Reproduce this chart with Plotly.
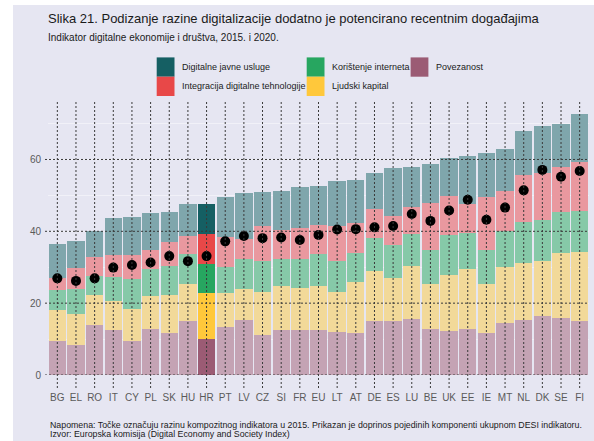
import plotly.graph_objects as go

categories = ["BG", "EL", "RO", "IT", "CY", "PL", "SK", "HU", "HR", "PT", "LV", "CZ", "SI", "FR",
              "EU", "LT", "AT", "DE", "ES", "LU", "BE", "UK", "EE", "IE", "MT", "NL", "DK", "SE", "FI"]

povezanost = [9.6, 8.4, 14.0, 12.5, 9.6, 12.9, 11.8, 15.1, 10.1, 13.4, 15.4, 11.2, 12.6, 12.4,
              12.4, 12.1, 11.7, 14.9, 15.1, 15.7, 12.9, 12.2, 12.9, 11.6, 14.6, 15.2, 16.3, 16.0, 14.9]
ljudski_kapital = [8.5, 8.7, 8.3, 8.0, 8.8, 9.2, 10.5, 10.3, 12.6, 9.5, 8.6, 12.0, 12.1, 11.9,
                   12.5, 11.1, 14.3, 14.1, 12.0, 14.7, 12.5, 15.7, 16.7, 13.8, 15.5, 16.0, 15.5, 18.0, 19.4]
koristenje_interneta = [5.6, 6.9, 5.4, 6.8, 8.3, 7.4, 8.1, 8.4, 8.3, 7.2, 8.3, 8.4, 7.6, 8.0,
                        8.7, 8.5, 8.0, 9.2, 9.1, 8.9, 9.5, 11.0, 9.9, 9.5, 9.9, 11.3, 11.3, 11.5, 11.4]
integracija = [3.4, 5.7, 5.1, 6.2, 6.8, 5.4, 6.5, 5.0, 8.3, 8.2, 5.6, 9.9, 8.2, 8.5,
               8.2, 9.9, 8.2, 8.0, 8.1, 7.5, 13.1, 10.9, 8.2, 14.7, 11.1, 13.1, 13.0, 12.3, 13.6]
javne_usluge = [9.4, 7.6, 7.4, 10.2, 10.5, 10.2, 8.4, 8.9, 8.4, 11.2, 12.7, 9.4, 10.7, 11.5,
                10.8, 12.4, 12.1, 10.0, 13.3, 11.1, 10.7, 10.7, 13.4, 12.2, 11.7, 12.3, 13.2, 12.0, 13.3]
desi_2015 = [26.9, 26.2, 26.9, 29.9, 30.6, 31.3, 33.1, 31.7, 33.1, 37.2, 38.7, 38.1, 38.3, 37.6,
             39.0, 40.5, 40.6, 41.1, 41.5, 44.8, 42.9, 45.8, 48.8, 43.2, 46.6, 51.4, 57.1, 55.2, 56.8]

highlight = "HR"

series = [
    ("Povezanost", povezanost, "#9B5B74", "#C4A3B4"),
    ("Ljudski kapital", ljudski_kapital, "#FFC83B", "#F2D999"),
    ("Korištenje interneta", koristenje_interneta, "#27A660", "#86C9A8"),
    ("Integracija digitalne tehnologije", integracija, "#E84848", "#E9989F"),
    ("Digitalne javne usluge", javne_usluge, "#155F63", "#7FA6AC"),
]

W, H = 594, 441
ML, MR, MT, MB = 48, 5, 102, 66
PW, PH = W - ML - MR, H - MT - MB
BG = "#E6E6F2"
FONT = "Liberation Sans, Arial, sans-serif"


def px(x):
    return (x - ML) / PW


def py(y):
    return (H - MB - y) / PH


fig = go.Figure()
for name, vals, full, faded in series:
    colors = [full if c == highlight else faded for c in categories]
    fig.add_trace(go.Bar(x=categories, y=vals, name=name, marker=dict(color=colors, line=dict(width=0)),
                         showlegend=False))

fig.add_trace(go.Scatter(x=categories, y=desi_2015, mode="markers", showlegend=False,
                         marker=dict(color="black", size=10)))

shapes = []
# background panel
shapes.append(dict(type="rect", xref="paper", yref="paper", x0=px(13), x1=px(W + 2), y0=py(5), y1=py(H + 2),
                   fillcolor=BG, line=dict(width=0), layer="below"))
# dotted vertical lines with ticks
for i, c in enumerate(categories):
    shapes.append(dict(type="line", xref="x", yref="paper", x0=i, x1=i, y0=py(388), y1=1,
                       line=dict(color="#3a3a3a", width=1, dash="2px,2px"), layer="above"))
# dotted horizontal lines
for v in [0, 20, 40, 60]:
    shapes.append(dict(type="line", xref="paper", yref="y", x0=px(45), x1=1, y0=v, y1=v,
                       line=dict(color="#3a3a3a", width=1, dash="2px,2px"), layer="above"))

annotations = []
annotations.append(dict(text="Slika 21. Podizanje razine digitalizacije dodatno je potencirano recentnim događajima",
                        xref="paper", yref="paper", x=px(45.5), y=py(18.7), xanchor="left", yanchor="middle",
                        showarrow=False, font=dict(size=13, color="#1a1a1a", family=FONT)))
annotations.append(dict(text="Indikator digitalne ekonomije i društva, 2015. i 2020.",
                        xref="paper", yref="paper", x=px(45.5), y=py(38), xanchor="left", yanchor="middle",
                        showarrow=False, font=dict(size=10, color="#1a1a1a", family=FONT)))

# custom legend (column-major, 2 rows)
legend_items = [
    ("Digitalne javne usluge", "#155F63", 156.7, 0),
    ("Integracija digitalne tehnologije", "#E84848", 156.7, 1),
    ("Korištenje interneta", "#27A660", 306.7, 0),
    ("Ljudski kapital", "#FFC83B", 306.7, 1),
    ("Povezanost", "#9B5B74", 410.6, 0),
]
for label, col, x0, row in legend_items:
    top = 57.4 + row * 19.3
    shapes.append(dict(type="rect", xref="paper", yref="paper", x0=px(x0), x1=px(x0 + 17.8),
                       y0=py(top + 19.3), y1=py(top), fillcolor=col, line=dict(width=0)))
    annotations.append(dict(text=label, xref="paper", yref="paper", x=px(x0 + 23.5), y=py(top + 9.5),
                            xanchor="left", yanchor="middle", showarrow=False,
                            font=dict(size=9, color="#1a1a1a", family=FONT)))

annotations.append(dict(text="Napomena: Točke označuju razinu kompozitnog indikatora u 2015. Prikazan je doprinos pojedinih komponenti ukupnom DESI indikatoru.",
                        xref="paper", yref="paper", x=px(47.5), y=py(424.5), xanchor="left", yanchor="middle",
                        showarrow=False, font=dict(size=8.8, color="#1a1a1a", family=FONT)))
annotations.append(dict(text="Izvor: Europska komisija (Digital Economy and Society Index)",
                        xref="paper", yref="paper", x=px(47.5), y=py(434), xanchor="left", yanchor="middle",
                        showarrow=False, font=dict(size=8.8, color="#1a1a1a", family=FONT)))

fig.update_layout(
    width=W, height=H,
    margin=dict(l=ML, r=MR, t=MT, b=MB, pad=0),
    paper_bgcolor="white",
    plot_bgcolor=BG,
    barmode="stack",
    bargap=0.07,
    font=dict(family=FONT),
    shapes=shapes,
    annotations=annotations,
    xaxis=dict(type="category", categoryorder="array", categoryarray=categories,
               range=[-0.5, len(categories) - 0.5], showgrid=False, zeroline=False, showline=False,
               ticks="", ticklabelstandoff=15, tickfont=dict(size=10, color="#5a5a5a", family=FONT)),
    yaxis=dict(range=[0, 76], tickmode="array", tickvals=[0, 20, 40, 60], showgrid=True,
               gridcolor="#F1F1F8", gridwidth=1, zeroline=False, showline=False, ticks="",
               ticklabelstandoff=6, tickfont=dict(size=10, color="#5a5a5a", family=FONT),
               minor=dict(dtick=10, tick0=0, showgrid=True, gridcolor="#F1F1F8", gridwidth=1)),
)

fig.write_html("out.html", config={"displayModeBar": False},
               post_script="document.body.style.margin='0';document.body.style.overflow='hidden';")
